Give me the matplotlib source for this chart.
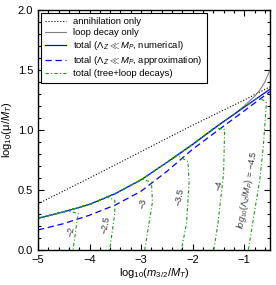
import numpy as np
import matplotlib
matplotlib.use('Agg')
import matplotlib.pyplot as plt
from matplotlib.ticker import AutoMinorLocator

plt.rcParams['font.family'] = ['Liberation Sans', 'DejaVu Sans']
plt.rcParams['mathtext.fontset'] = 'custom'
plt.rcParams['mathtext.rm'] = 'Liberation Sans'
plt.rcParams['mathtext.it'] = 'Liberation Sans:italic'
plt.rcParams['mathtext.bf'] = 'Liberation Sans:bold'

# annihilation only
x_ann = [-5.0, -4.0, -3.0, -2.0, -1.0, -0.5]
y_ann = [0.385, 0.60, 0.82, 1.04, 1.25, 1.36]

# loop decay only
x_loop = [-2.4, -2.0, -1.5, -1.2, -1.0, -0.8, -0.7, -0.6, -0.5]
y_loop = [0.76, 0.88, 1.04, 1.13, 1.20, 1.28, 1.33, 1.40, 1.50]

# total, numerical
x_num = [-5.0, -4.5, -4.0, -3.5, -3.0, -2.5, -2.0, -1.5, -1.0, -0.5]
y_num = [0.265, 0.318, 0.38, 0.47, 0.585, 0.73, 0.88, 1.04, 1.19, 1.34]

# total, approximation
x_apx = [-5.0, -4.5, -4.0, -3.5, -3.0, -2.5, -2.0, -1.5, -1.0, -0.5]
y_apx = [0.167, 0.22, 0.29, 0.375, 0.49, 0.655, 0.84, 1.0, 1.16, 1.32]

# tree+loop decays: part after leaving the total curve, one per log10(Lambda_Z/M_P)
lam_vals = ['-2', '-2.5', '-3', '-3.5', '-4', '-4.5']
drop_x = {
    '-2':   [-4.42, -4.22, -4.26, -4.32, -4.36],
    '-2.5': [-3.65, -3.51, -3.51, -3.61, -3.64],
    '-3':   [-2.98, -2.80, -2.78, -2.93, -2.97],
    '-3.5': [-2.30, -2.09, -2.07, -2.12, -2.22, -2.26],
    '-4':   [-1.58, -1.38, -1.40, -1.51, -1.59, -1.62],
    '-4.5': [-0.72, -0.57, -0.63, -0.70, -0.80, -0.92, -0.96],
}
drop_y = {
    '-2':   [0.325, 0.305, 0.19, 0.0, -0.07],
    '-2.5': [0.44, 0.415, 0.31, 0.0, -0.07],
    '-3':   [0.59, 0.565, 0.40, 0.0, -0.07],
    '-3.5': [0.79, 0.736, 0.56, 0.22, 0.0, -0.07],
    '-4':   [1.02, 1.005, 0.64, 0.22, 0.0, -0.07],
    '-4.5': [1.275, 1.23, 0.86, 0.58, 0.32, 0.0, -0.07],
}
lab_x = [-4.37, -3.69, -2.97, -2.25, -1.49, -0.93]
lab_y = [0.15, 0.21, 0.39, 0.44, 0.54, 0.50]

fig = plt.figure(figsize=(2.76, 2.85), dpi=100)
ax = fig.add_axes([38/276, 35/285, 232/276, 240/285])

ax.plot(x_ann, y_ann, color='k', ls=':', lw=0.8, label='annihilation only')
ax.plot(x_loop, y_loop, color='0.5', ls='-', lw=0.8, label='loop decay only')
ax.plot(x_num, y_num, color='b', ls='-', lw=0.9,
        label=r'total ($\Lambda_Z \ll M_P$, numerical)')
ax.plot(x_apx, y_apx, color='b', ls=(0, (5, 3)), lw=0.9,
        label=r'total ($\Lambda_Z \ll M_P$, approximation)')

xn = np.array(x_num)
yn = np.array(y_num)
for i, lam in enumerate(lam_vals):
    keep = xn < drop_x[lam][0]
    gx = list(xn[keep]) + drop_x[lam]
    gy = list(yn[keep]) + drop_y[lam]
    ax.plot(gx, gy, color='#1a9a1a', ls=(0, (3, 2, 1, 2)), lw=0.8,
            label='total (tree+loop decays)' if i == 0 else None)
    if lam == '-4.5':
        txt = r'$log_{10}(\Lambda_Z/M_P)$ = $-$4.5'
    else:
        txt = '\u2212' + lam[1:]
    ax.text(lab_x[i], lab_y[i], txt, rotation=80, fontsize=6.5, color='0.2',
            ha='center', va='center')

ax.set_xlim(-5, -0.5)
ax.set_ylim(0, 2.0)
ax.set_xticks([-5, -4, -3, -2, -1])
ax.set_yticks([0.0, 0.5, 1.0, 1.5, 2.0])
ax.xaxis.set_minor_locator(AutoMinorLocator(5))
ax.yaxis.set_minor_locator(AutoMinorLocator(5))
ax.tick_params(which='both', direction='in', top=True, right=True, labelsize=8, width=0.8)
ax.tick_params(which='major', length=4)
ax.tick_params(which='minor', length=2)
for s in ax.spines.values():
    s.set_linewidth(1.0)

ax.set_xlabel(r'log$_{10}$($m_{3/2}/M_T$)', fontsize=8, labelpad=1)
ax.set_ylabel(r'log$_{10}$(μ/$M_T$)', fontsize=8, labelpad=3)

leg = ax.legend(loc='upper left', fontsize=6.8, frameon=True, fancybox=False,
                edgecolor='k', framealpha=1, borderaxespad=0.3,
                labelspacing=0.22, handlelength=2.2, borderpad=0.45)
leg.get_frame().set_linewidth(0.8)

fig.savefig('out.png', dpi=100)
